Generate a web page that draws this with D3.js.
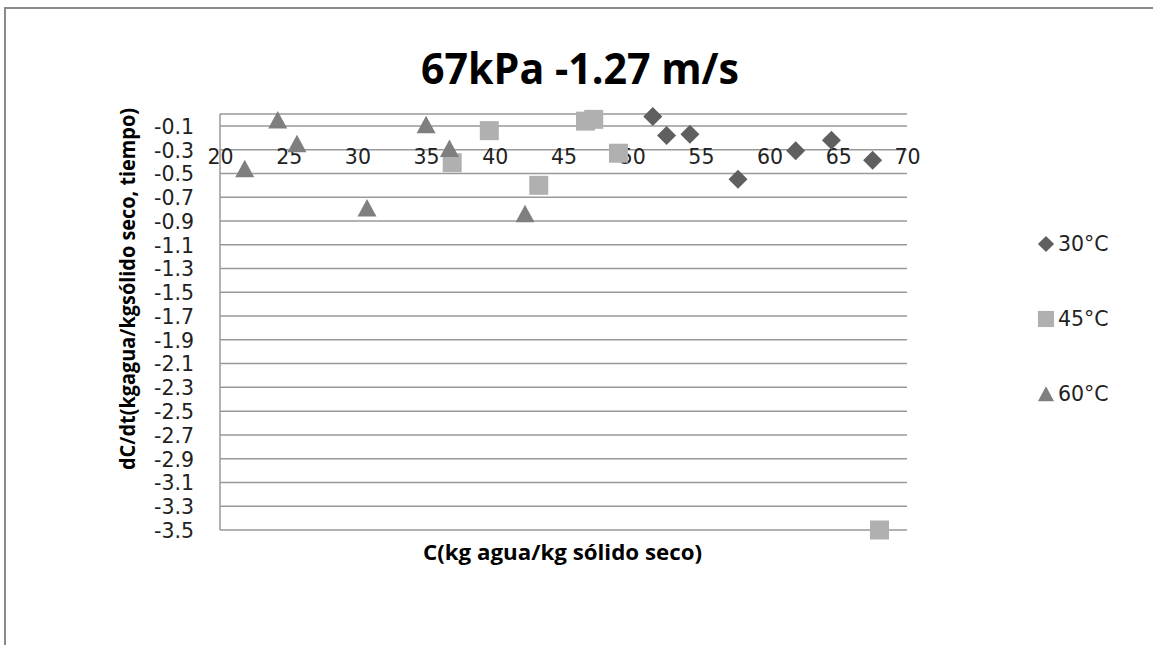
<!DOCTYPE html>
<html><head><meta charset="utf-8">
<script src="https://cdn.jsdelivr.net/npm/d3@7"></script>
<style>body{margin:0;background:#fff;} svg{display:block;}</style>
</head><body>
<svg id="c" width="1153" height="645"></svg>
<script>
const title = "67kPa -1.27 m/s";
const xTitle = "C(kg agua/kg sólido seco)";
const yTitle = "dC/dt(kgagua/kgsólido seco, tiempo)";
const seriesNames = ["30°C", "45°C", "60°C"];
const xTicks = [20, 25, 30, 35, 40, 45, 50, 55, 60, 65, 70];
const yTicks = [-0.1,-0.3,-0.5,-0.7,-0.9,-1.1,-1.3,-1.5,-1.7,-1.9,-2.1,-2.3,-2.5,-2.7,-2.9,-3.1,-3.3,-3.5];
const s30x = [51.5, 52.5, 54.2, 57.7, 61.9, 64.5, 67.5];
const s30y = [-0.02, -0.18, -0.17, -0.55, -0.31, -0.22, -0.39];
const s45x = [39.6, 36.9, 43.2, 46.6, 47.2, 49.0, 68.0];
const s45y = [-0.14, -0.41, -0.60, -0.06, -0.045, -0.33, -3.5];
const s60x = [24.2, 25.6, 21.8, 30.7, 35.0, 36.7, 42.2];
const s60y = [-0.05, -0.25, -0.46, -0.79, -0.09, -0.29, -0.84];

const colors = ["#5f5f5f", "#b0b0b0", "#7f7f7f"];
const svg = d3.select("#c");
const x = d3.scaleLinear().domain([20, 70]).range([220, 907]);
const y = d3.scaleLinear().domain([-3.5, 0]).range([530, 114]);

// outer border
svg.append("path").attr("d","M5,645 L5,8 L1153,8").attr("fill","none").attr("stroke","#8a8a8a").attr("stroke-width",2);

// title
svg.append("text").attr("x",580).attr("y",84).attr("text-anchor","middle")
  .attr("font-family","'Open Sans', sans-serif").attr("font-weight","bold").attr("font-size",43)
  .attr("textLength",318).attr("lengthAdjust","spacingAndGlyphs").text(title);

// gridlines
const grid = [0].concat(yTicks);
svg.append("g").selectAll("line").data(grid).join("line")
  .attr("x1",x(20)).attr("x2",x(70)).attr("y1",d=>y(d)).attr("y2",d=>y(d))
  .attr("stroke","#999").attr("stroke-width",1.5);
svg.append("line").attr("x1",x(20)).attr("x2",x(20)).attr("y1",y(0)).attr("y2",y(-3.5))
  .attr("stroke","#999").attr("stroke-width",1.5);

// y axis labels
const yAxis = d3.axisLeft(y).tickValues(yTicks).tickSize(0).tickPadding(0).tickFormat(d=>d.toFixed(1));
const ya = svg.append("g").attr("transform","translate(194,0)").call(yAxis);
ya.select(".domain").remove();
ya.selectAll("text").attr("font-family","'DejaVu Sans', sans-serif").attr("font-size",20.5).attr("fill","#222").attr("dy","0.36em");

// x axis labels at -0.3
const xAxis = d3.axisBottom(x).tickValues(xTicks).tickSize(0).tickPadding(0).tickFormat(d=>String(d));
const xa = svg.append("g").attr("transform",`translate(0,${y(-0.3)})`).call(xAxis);
xa.select(".domain").remove();
xa.selectAll("text").attr("font-family","'DejaVu Sans', sans-serif").attr("font-size",20.5).attr("fill","#222").attr("dy","0.72em");

// axis titles
svg.append("text").attr("x",(x(20)+x(70))/2-1).attr("y",560).attr("text-anchor","middle")
  .attr("font-family","'Open Sans', sans-serif").attr("font-weight","bold").attr("font-size",21)
  .attr("textLength",279).attr("lengthAdjust","spacingAndGlyphs").text(xTitle);
svg.append("text").attr("transform","translate(135,289) rotate(-90)").attr("text-anchor","middle")
  .attr("font-family","'Open Sans', sans-serif").attr("font-weight","bold").attr("font-size",21)
  .attr("textLength",362).attr("lengthAdjust","spacingAndGlyphs").text(yTitle);

// markers
const diamond = "M0,-9.5L9.5,0L0,9.5L-9.5,0Z";
const square = "M-9.5,-9.5H9.5V9.5H-9.5Z";
const tri = "M0,-9L9.5,8.5H-9.5Z";
const shapes = [diamond, square, tri];
const series = [[s30x,s30y],[s45x,s45y],[s60x,s60y]];
series.forEach((s,i)=>{
  svg.append("g").selectAll("path").data(s[0].map((v,j)=>[v,s[1][j]])).join("path")
    .attr("d",shapes[i]).attr("fill",colors[i])
    .attr("transform",d=>`translate(${x(d[0])},${y(d[1])})`);
});

// legend
const ly = [244, 319, 394];
seriesNames.forEach((n,i)=>{
  svg.append("path").attr("d",shapes[i]).attr("fill",colors[i])
    .attr("transform",`translate(1046,${ly[i]}) scale(0.85)`);
  svg.append("text").attr("x",1058).attr("y",ly[i]).attr("dy","0.36em")
    .attr("font-family","'DejaVu Sans', sans-serif").attr("font-size",20.5).attr("fill","#222").text(n);
});
</script>
</body></html>
